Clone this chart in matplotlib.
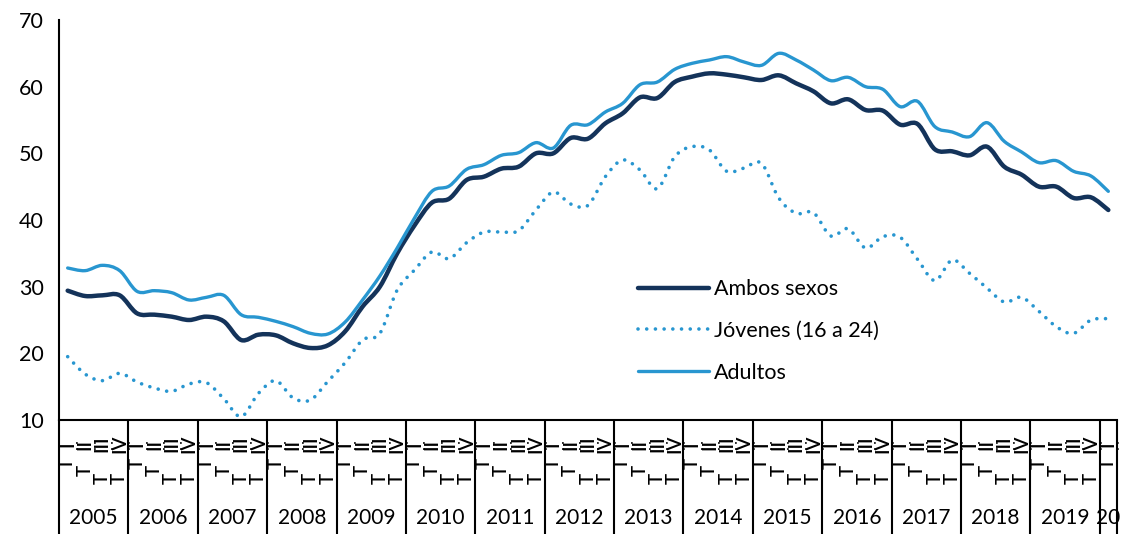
import numpy as np
import matplotlib.pyplot as plt
from matplotlib.path import Path
from matplotlib.patches import PathPatch
from matplotlib.lines import Line2D

plt.rcParams['font.family'] = ['Lato', 'DejaVu Sans']

years = ['2005', '2006', '2007', '2008', '2009', '2010', '2011', '2012',
         '2013', '2014', '2015', '2016', '2017', '2018', '2019', '20']
quarters = ['I', 'II', 'III', 'IV']

# quarterly series, 2005-I .. 2020-I
ambos = [29.4, 28.6, 28.7, 28.7, 26.0, 25.8, 25.5, 25.0, 25.5, 24.8,
         22.0, 22.8, 22.7, 21.5, 20.8, 21.2, 23.3, 27.0, 30.0, 35.0,
         39.2, 42.6, 43.2, 46.0, 46.5, 47.7, 48.0, 50.0, 50.0, 52.3,
         52.2, 54.5, 56.0, 58.4, 58.3, 60.7, 61.5, 62.0, 61.8, 61.4,
         61.0, 61.7, 60.5, 59.3, 57.5, 58.1, 56.5, 56.4, 54.3, 54.4,
         50.6, 50.3, 49.7, 51.0, 48.0, 46.8, 45.0, 45.0, 43.3, 43.4,
         41.5]
jovenes = [19.5, 16.9, 15.9, 17.0, 15.7, 14.8, 14.3, 15.4, 15.6, 13.2,
           10.5, 14.0, 15.9, 13.3, 13.0, 15.8, 18.6, 22.0, 23.0, 29.5,
           32.5, 35.2, 34.2, 36.6, 38.2, 38.2, 38.4, 41.5, 44.2, 42.4,
           42.2, 46.5, 49.0, 47.5, 44.7, 49.5, 51.0, 50.5, 47.3, 47.8,
           48.5, 43.3, 41.0, 41.1, 37.6, 38.7, 35.8, 37.5, 37.4, 34.1,
           30.9, 34.0, 32.0, 29.8, 27.7, 28.4, 26.3, 24.0, 23.0, 25.0,
           25.2]
adultos = [32.8, 32.4, 33.2, 32.4, 29.3, 29.4, 29.1, 28.0, 28.4, 28.7,
           25.8, 25.4, 24.8, 24.0, 23.0, 22.9, 24.7, 28.0, 31.6, 35.8,
           40.3, 44.3, 45.1, 47.6, 48.3, 49.7, 50.1, 51.6, 50.8, 54.2,
           54.3, 56.2, 57.5, 60.3, 60.7, 62.6, 63.5, 64.0, 64.5, 63.7,
           63.2, 65.0, 64.0, 62.5, 60.9, 61.4, 60.0, 59.6, 57.0, 57.8,
           54.0, 53.2, 52.5, 54.6, 51.8, 50.2, 48.6, 48.9, 47.3, 46.6,
           44.3]

dark = '#14335a'
light = '#2896d0'


def smooth_path(values):
    # bezier curve through every point (catmull-rom tangents)
    pts = np.column_stack([np.arange(len(values)), values])
    n = len(pts)
    verts = [pts[0]]
    codes = [Path.MOVETO]
    for i in range(n - 1):
        p0 = pts[max(i - 1, 0)]
        p1 = pts[i]
        p2 = pts[i + 1]
        p3 = pts[min(i + 2, n - 1)]
        verts += [p1 + (p2 - p0) / 6, p2 - (p3 - p1) / 6, p2]
        codes += [Path.CURVE4] * 3
    return Path(verts, codes)


fig = plt.figure(figsize=(11.25, 5.34), dpi=100)
ax = fig.add_axes([59 / 1125, 114 / 534, 1058 / 1125, 400 / 534])

series = [
    (ambos, 'Ambos sexos', dark, 3.2, '-'),
    (jovenes, 'Jóvenes (16 a 24)', light, 2.6, (0, (0.01, 2.4))),
    (adultos, 'Adultos', light, 2.4, '-'),
]
handles = []
for vals, name, col, lw, ls in series:
    patch = PathPatch(smooth_path(vals), fill=False, edgecolor=col, lw=lw,
                      linestyle=ls, capstyle='round', joinstyle='round')
    ax.add_patch(patch)
    handles.append(Line2D([], [], color=col, lw=lw, linestyle=ls,
                          solid_capstyle='round', dash_capstyle='round'))

n = len(ambos)
ax.set_xlim(-0.5, n - 0.5)
ax.set_ylim(10, 70)
ax.set_yticks(range(10, 71, 10))
ax.set_xticks([])
ax.tick_params(axis='y', length=0, pad=11, labelsize=15.5)

for s in ['top', 'right']:
    ax.spines[s].set_visible(False)
for s in ['left', 'bottom']:
    ax.spines[s].set_linewidth(1.5)
    ax.spines[s].set_color('black')

# category table under the axis
tr = ax.get_xaxis_transform()
edges = list(np.arange(-0.5, n - 1, 4)) + [n - 0.5]
for e in edges:
    ax.plot([e, e], [0, -0.3], color='black', lw=1.5, transform=tr,
            clip_on=False, solid_capstyle='butt')

t_offsets = [-0.108, -0.125, -0.145, -0.145]
for i in range(n):
    q = i % 4
    ax.text(i, -0.06, quarters[q], rotation=90, ha='center', va='center',
            fontsize=13.5, fontweight='semibold', transform=tr, clip_on=False)
    ax.text(i, t_offsets[q], 'T', rotation=90, ha='center', va='center',
            fontsize=13.5, fontweight='semibold', transform=tr, clip_on=False)
    ax.text(i + 0.5, -0.065, ':', ha='center', va='center',
            fontsize=11, transform=tr, clip_on=False)

for k, yr in enumerate(years):
    centre = min(4 * k + 1.5, n - 1)
    ax.text(centre, -0.245, yr, ha='center', va='center', fontsize=15,
            transform=tr, clip_on=False)

ax.legend(handles, [s[1] for s in series], loc='center left',
          bbox_to_anchor=((638 - 59) / 1058, 1 - (331 - 20) / 400),
          frameon=False, fontsize=15.5, handlelength=3.3, handletextpad=0.25,
          labelspacing=1.0, borderpad=0, borderaxespad=0)

fig.savefig('out.png', dpi=100)
